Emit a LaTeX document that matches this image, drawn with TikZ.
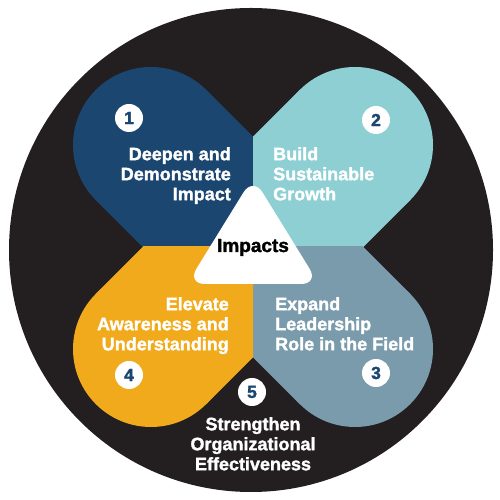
\documentclass[tikz,border=0pt]{standalone}
\usepackage{fontspec}
\setmainfont{Liberation Sans}[BoldFeatures={FakeBold=1.6}]
\definecolor{bgblack}{RGB}{35,31,32}
\definecolor{qblue}{RGB}{27,70,112}
\definecolor{qteal}{RGB}{141,207,211}
\definecolor{qgrey}{RGB}{122,155,171}
\definecolor{qorange}{RGB}{241,170,27}
\tikzset{
  numc/.style={circle, fill=white, minimum size=28pt, inner sep=0pt, text=qblue, font=\fontsize{17.5}{17}\selectfont\bfseries},
  qtext/.style={text=white, inner sep=0pt, font=\fontsize{18}{20}\selectfont\bfseries},
}
\begin{document}
\begin{tikzpicture}[x=1pt,y=1pt]
\useasboundingbox (0,0) rectangle (500,500);
\fill[bgblack] (251,250) circle (242);
% quadrants
\begin{scope}
  \clip (253,253) rectangle (0,500);
  \fill[qblue] (151,355) circle (78);
  \fill[qblue, rotate around={135:(253,253)}] (243,175) rectangle (397.25,331);
\end{scope}
\begin{scope}
  \clip (253,253) rectangle (500,500);
  \fill[qteal] (355,355) circle (78);
  \fill[qteal, rotate around={45:(253,253)}] (243,175) rectangle (397.25,331);
\end{scope}
\begin{scope}
  \clip (253,253) rectangle (500,0);
  \fill[qgrey] (355,151) circle (78);
  \fill[qgrey, rotate around={-45:(253,253)}] (243,175) rectangle (397.25,331);
\end{scope}
\begin{scope}
  \clip (253,253) rectangle (0,0);
  \fill[qorange] (151,151) circle (78);
  \fill[qorange, rotate around={-135:(253,253)}] (243,175) rectangle (397.25,331);
\end{scope}
% center triangle
\fill[white, rounded corners=18] (253,323) -- (187,216) -- (319,216) -- cycle;
\node[inner sep=0pt, anchor=base, font=\fontsize{19}{20}\selectfont\bfseries, text=black] (imp) at (253,248) {Impacts};
% texts
\node[qtext, anchor=north east, align=right] (t1) at (231,353) {Deepen and\\Demonstrate\\Impact};
\node[qtext, anchor=north west, align=left] (t2) at (273,353) {Build\\Sustainable\\Growth};
\node[qtext, anchor=north east, align=right] (t4) at (229,203) {Elevate\\Awareness and\\Understanding};
\node[qtext, anchor=north west, align=left] (t3) at (275,203) {Expand\\Leadership\\Role in the Field};
\node[qtext, anchor=north, align=center] (t5) at (253,83) {Strengthen\\Organizational\\Effectiveness};
% numbers
\node[numc] (n1) at (129,382) {1};
\node[numc] (n2) at (376,380) {2};
\node[numc] (n3) at (376,127) {3};
\node[numc] (n4) at (129,125) {4};
\node[numc] (n5) at (252,108) {5};
\end{tikzpicture}
\end{document}
